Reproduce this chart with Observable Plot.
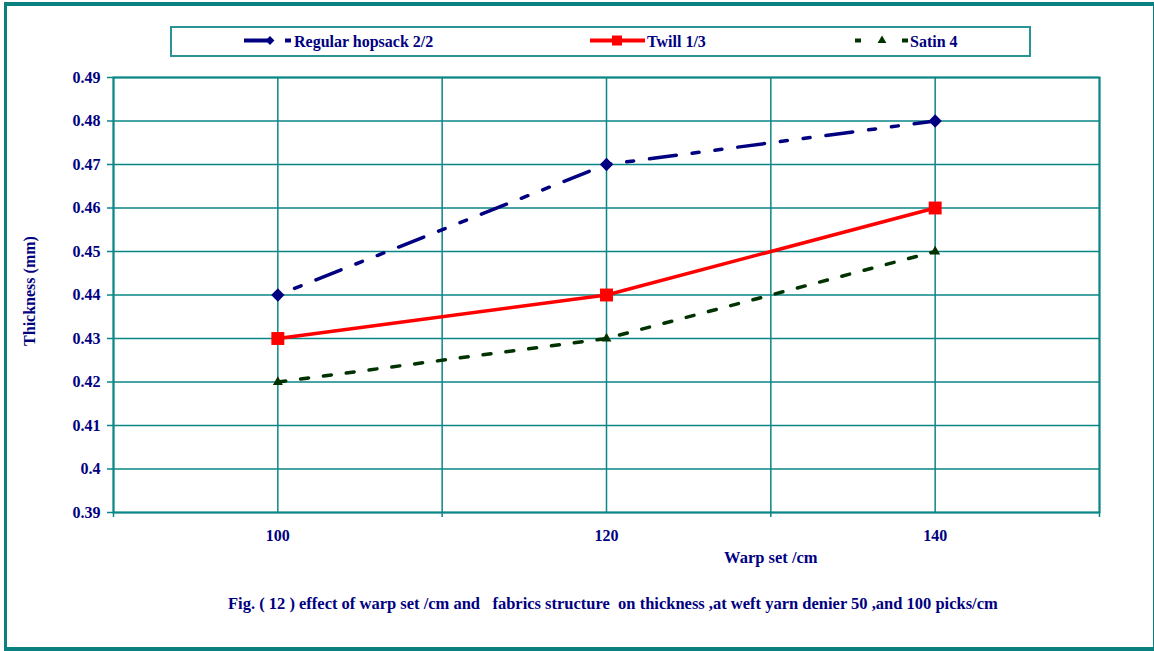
<!DOCTYPE html>
<html>
<head>
<meta charset="utf-8">
<script src="https://cdn.jsdelivr.net/npm/d3@7"></script>
<script src="https://cdn.jsdelivr.net/npm/@observablehq/plot@0.6"></script>
<style>
  body { margin: 0; background: #fff; }
  #wrap { position: relative; width: 1154px; height: 651px; overflow: hidden;
          font-family: "Liberation Serif", "Times New Roman", "DejaVu Serif", serif; font-weight: bold; color: #000080; }
  #frame { position: absolute; left: 4px; top: 2px; width: 1150px; height: 649px; box-sizing: border-box;
           border-style: solid; border-color: #0b8080; border-width: 4px 1px 4px 3px; }
  #chart { position: absolute; left: 0; top: 0; }
  #legend { position: absolute; left: 170px; top: 26px; width: 861px; height: 31px; box-sizing: border-box;
            border: 2px solid #2a9494; }
  #legend svg { position: absolute; left: 0; top: 0; }
  .lg { position: absolute; top: 4px; font-size: 16px; line-height: 19px; white-space: pre; }
  #caption { position: absolute; left: 228px; top: 594px; font-size: 16.5px; line-height: 19px; white-space: pre; }
</style>
</head>
<body>
<div id="wrap">
  <div id="frame"></div>
  <div id="chart"></div>
  <div id="legend"></div>
  <div id="caption"></div>
</div>
<script>
// ---- data ----
const warpSet = [100, 120, 140];
const hopsack = [0.44, 0.47, 0.48];
const twill   = [0.43, 0.44, 0.46];
const satin   = [0.42, 0.43, 0.45];
const seriesNames = ["Regular hopsack 2/2", "Twill 1/3", "Satin 4"];
const yTicks = [0.39, 0.40, 0.41, 0.42, 0.43, 0.44, 0.45, 0.46, 0.47, 0.48, 0.49];
const xTickLabels = [100, 120, 140];
const xGrid = [90, 100, 110, 120, 130, 140, 150];
const xMinorTicks = [90, 110, 130, 150];
const xTitle = "Warp set /cm";
const yTitle = "Thickness (mm)";
const captionText = "Fig. ( 12 ) effect of warp set /cm and   fabrics structure  on thickness ,at weft yarn denier 50 ,and 100 picks/cm";

// ---- styles ----
const teal = "#0b8686";
const navy = "#000080";
const red = "#ff0000";
const green = "#003300";
const serif = "'Liberation Serif', 'Times New Roman', 'DejaVu Serif', serif";

const rows = (vals) => warpSet.map((w, i) => ({w, v: vals[i]}));
const hopRows = rows(hopsack), twRows = rows(twill), saRows = rows(satin);

const chart = Plot.plot({
  width: 1154,
  height: 590,
  marginLeft: 113,
  marginRight: 55,
  marginTop: 77,
  marginBottom: 78,
  style: {fontFamily: serif, fontWeight: "bold", fontSize: "16px", background: "transparent", overflow: "visible"},
  x: {type: "linear", domain: [90, 150]},
  y: {type: "linear", domain: [0.39, 0.49]},
  marks: [
    Plot.gridY(yTicks, {stroke: teal, strokeOpacity: 1, strokeWidth: 1.5}),
    Plot.gridX(xGrid, {stroke: teal, strokeOpacity: 1, strokeWidth: 1.5}),
    Plot.frame({stroke: teal, strokeWidth: 2}),
    Plot.axisY(yTicks, {tickSize: 6, tickPadding: 7, stroke: teal, strokeWidth: 1.5, fill: navy, fontSize: 16,
      tickFormat: d => String(+d.toFixed(2)), label: null}),
    Plot.axisX(xTickLabels, {tickSize: 0, tickPadding: 17, fill: navy, fontSize: 16, label: null}),
    Plot.axisX(xMinorTicks, {tickSize: 5, stroke: teal, strokeWidth: 1.5, tickFormat: () => "", label: null}),
    Plot.line(hopRows, {x: "w", y: "v", stroke: navy, strokeWidth: 3.5, strokeDasharray: "27,16,7,16,7,16", strokeDashoffset: 48}),
    Plot.line(twRows, {x: "w", y: "v", stroke: red, strokeWidth: 3.5}),
    Plot.line(saRows, {x: "w", y: "v", stroke: green, strokeWidth: 3.5, strokeDasharray: "8,15"}),
    Plot.dot(hopRows, {x: "w", y: "v", symbol: "diamond2", r: 6, fill: navy, stroke: null}),
    Plot.dot(twRows, {x: "w", y: "v", symbol: "square", r: 7.3, fill: red, stroke: null}),
    Plot.dot(saRows, {x: "w", y: "v", symbol: "triangle", r: 3.7, fill: green, stroke: null}),
    Plot.text([xTitle], {x: () => 130, frameAnchor: "bottom", dy: 50, fill: navy, fontSize: 16.5}),
    Plot.text([yTitle], {frameAnchor: "left", textAnchor: "middle", dx: -84, dy: -4, rotate: -90, fill: navy, fontSize: 16})
  ]
});
document.getElementById("chart").appendChild(chart);

// ---- legend ----
const legend = document.getElementById("legend");
const ns = "http://www.w3.org/2000/svg";
const lsvg = document.createElementNS(ns, "svg");
lsvg.setAttribute("width", 857); lsvg.setAttribute("height", 27);
const ox = 172, oy = 28; // legend content origin (page coords -> svg)
function el(tag, attrs) { const e = document.createElementNS(ns, tag); for (const k in attrs) e.setAttribute(k, attrs[k]); lsvg.appendChild(e); return e; }
const cy = 40.5 - oy;
// hopsack sample
el("line", {x1: 244 - ox, x2: 292 - ox, y1: cy, y2: cy, stroke: navy, "stroke-width": 4, "stroke-dasharray": "24,17,6,20"});
el("path", {d: d3.symbol(d3.symbolDiamond2, 50)(), transform: `translate(${270 - ox},${cy})`, fill: navy});
// twill sample
el("line", {x1: 590 - ox, x2: 645 - ox, y1: cy, y2: cy, stroke: red, "stroke-width": 4});
el("rect", {x: 612 - ox, y: cy - 5, width: 10, height: 10, fill: red});
// satin sample
el("line", {x1: 855 - ox, x2: 908 - ox, y1: cy, y2: cy, stroke: green, "stroke-width": 4, "stroke-dasharray": "6,41,6"});
el("path", {d: d3.symbol(d3.symbolTriangle, 34)(), transform: `translate(${882 - ox},${cy})`, fill: green});
legend.appendChild(lsvg);
const textX = [294, 647, 910];
seriesNames.forEach((n, i) => {
  const s = document.createElement("div");
  s.className = "lg"; s.textContent = n; s.style.left = (textX[i] - ox) + "px";
  legend.appendChild(s);
});

document.getElementById("caption").textContent = captionText;
</script>
</body>
</html>
